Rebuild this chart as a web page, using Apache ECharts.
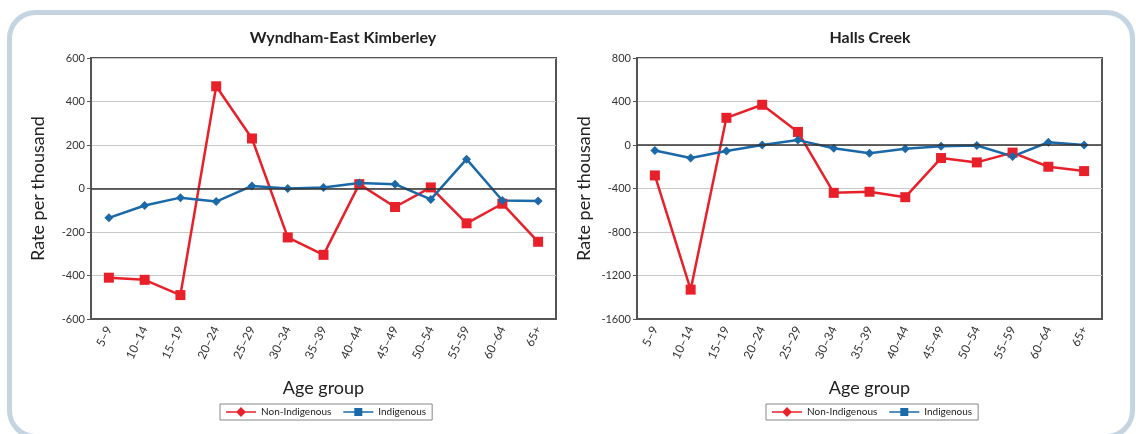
<!DOCTYPE html>
<html>
<head>
<meta charset="utf-8">
<script src="https://cdn.jsdelivr.net/npm/echarts@6/dist/echarts.min.js"></script>
<style>
  html, body { margin: 0; padding: 0; background: #fff; }
  #chart { width: 1136px; height: 434px; }
</style>
</head>
<body>
<div id="chart"></div>
<script>
// age groups
var ageGroups = ["5–9", "10–14", "15–19", "20–24", "25–29", "30–34", "35–39",
  "40–44", "45–49", "50–54", "55–59", "60–64", "65+"];

// Wyndham-East Kimberley
var wekNonIndig = [-410, -420, -490, 470, 230, -225, -305, 20, -85, 5, -160, -70, -245];
var wekIndig = [-135, -78, -42, -60, 12, 0, 5, 25, 20, -50, 135, -55, -57];

// Halls Creek
var hcNonIndig = [-280, -1330, 250, 370, 120, -440, -430, -480, -120, -160, -70, -200, -240];
var hcIndig = [-50, -120, -55, 0, 45, -30, -75, -35, -12, -5, -105, 25, 0];

var wekTicks = { min: -600, max: 600, interval: 200 };
var hcTicks = { min: -1600, max: 800, interval: 400 };

var RED = "#e8202a";
var BLUE = "#1b69a8";
var FONT = "Lato";

var chart = echarts.init(document.getElementById("chart"));

function yAxis(idx, t) {
  return {
    type: "value",
    gridIndex: idx,
    min: t.min,
    max: t.max,
    interval: t.interval,
    name: "Rate per thousand",
    nameLocation: "middle",
    nameRotate: 90,
    nameGap: 44,
    nameTextStyle: { fontFamily: FONT, fontSize: 18, color: "#222" },
    axisLine: { show: true, lineStyle: { color: "#555", width: 2 } },
    axisTick: { show: true, length: 4, lineStyle: { color: "#555" } },
    axisLabel: {
      fontFamily: FONT, fontSize: 11, color: "#333", margin: 6,
      formatter: function (v) { return String(v); }
    },
    splitLine: { lineStyle: { color: "#c8c8c8", width: 1 } }
  };
}

function xAxis(idx) {
  return {
    type: "category",
    gridIndex: idx,
    data: ageGroups,
    boundaryGap: true,
    name: "Age group",
    nameLocation: "middle",
    nameGap: 60,
    nameTextStyle: { fontFamily: FONT, fontSize: 18, color: "#222" },
    axisLine: { show: true, onZero: false, lineStyle: { color: "#555", width: 2 } },
    axisTick: { show: false },
    axisLabel: { fontFamily: FONT, fontSize: 12, color: "#333", rotate: 64, margin: 8, interval: 0 },
    splitLine: { show: false }
  };
}

function lineSeries(name, data, idx, color, symbol, size, zero) {
  var s = {
    name: name,
    type: "line",
    xAxisIndex: idx,
    yAxisIndex: idx,
    data: data,
    symbol: symbol,
    symbolSize: size,
    itemStyle: { color: color },
    lineStyle: { color: color, width: 2.5 },
    animation: false
  };
  if (zero) {
    s.markLine = {
      silent: true,
      symbol: "none",
      label: { show: false },
      lineStyle: { color: "#333", width: 1.5, type: "solid" },
      data: [{ yAxis: 0 }]
    };
  }
  return s;
}

// legend icons: line with marker (the source legend swaps the markers)
var iconDiamond = "path://M0,4.2L10.8,4.2L15,0L19.2,4.2L30,4.2L30,5.8L19.2,5.8L15,10L10.8,5.8L0,5.8Z";
var iconSquare = "path://M0,4.2L11,4.2L11,1L19,1L19,4.2L30,4.2L30,5.8L19,5.8L19,9L11,9L11,5.8L0,5.8Z";

function legend(left) {
  return {
    left: left,
    top: 404,
    itemWidth: 30,
    itemHeight: 10,
    itemGap: 12,
    padding: [3, 6, 3, 6],
    borderColor: "#888",
    borderWidth: 1,
    textStyle: { fontFamily: FONT, fontSize: 10, color: "#222" },
    data: [
      { name: "Non-Indigenous", icon: iconDiamond },
      { name: "Indigenous", icon: iconSquare }
    ]
  };
}

var option = {
  backgroundColor: "#fff",
  animation: false,
  graphic: [
    {
      type: "rect",
      shape: { x: 9.5, y: 12.5, width: 1123, height: 424, r: 26 },
      style: { fill: "none", stroke: "#c5d4e1", lineWidth: 5 },
      silent: true
    },
    {
      type: "text",
      x: 343, y: 30,
      style: { text: "Wyndham-East Kimberley", fontFamily: FONT, fontWeight: "bold", fontSize: 16, fill: "#222", textAlign: "center" }
    },
    {
      type: "text",
      x: 870, y: 30,
      style: { text: "Halls Creek", fontFamily: FONT, fontWeight: "bold", fontSize: 16, fill: "#222", textAlign: "center" }
    }
  ],
  grid: [
    { left: 91, top: 58, width: 465, height: 261, show: true, borderColor: "#555", borderWidth: 2 },
    { left: 637, top: 58, width: 465, height: 261, show: true, borderColor: "#555", borderWidth: 2 }
  ],
  legend: [legend(220), legend(766)],
  xAxis: [xAxis(0), xAxis(1)],
  yAxis: [yAxis(0, wekTicks), yAxis(1, hcTicks)],
  series: [
    lineSeries("Non-Indigenous", wekNonIndig, 0, RED, "rect", 10, true),
    lineSeries("Indigenous", wekIndig, 0, BLUE, "diamond", 9, false),
    lineSeries("Non-Indigenous", hcNonIndig, 1, RED, "rect", 10, true),
    lineSeries("Indigenous", hcIndig, 1, BLUE, "diamond", 9, false)
  ]
};

chart.setOption(option);
</script>
</body>
</html>
